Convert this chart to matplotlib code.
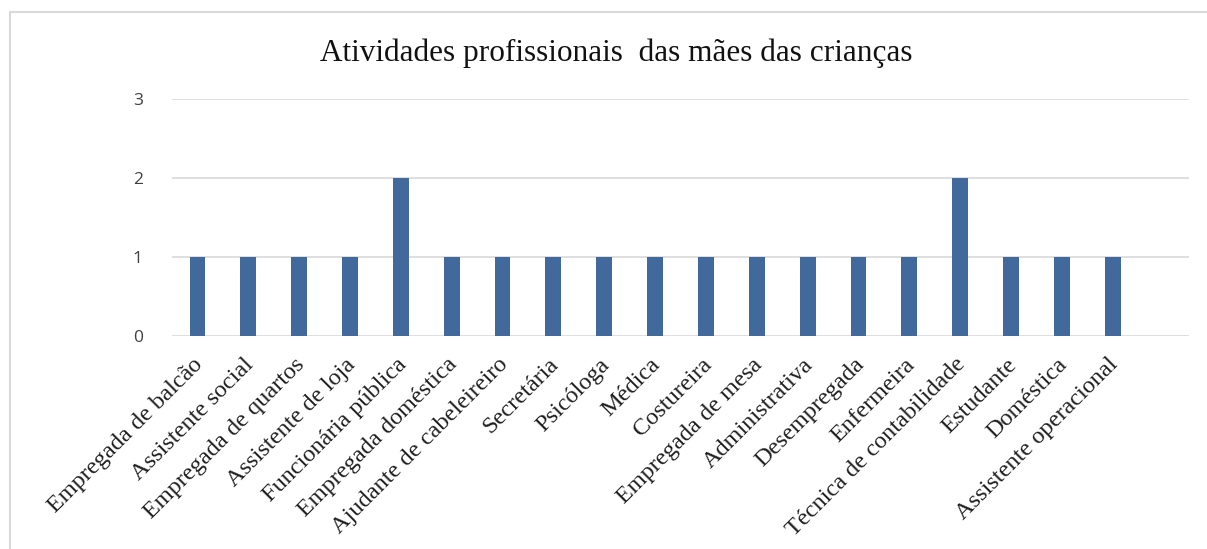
import matplotlib
matplotlib.use("Agg")
import matplotlib.pyplot as plt
from matplotlib.patches import Rectangle
from matplotlib.transforms import ScaledTranslation

categories = ["Empregada de balcão", "Assistente social", "Empregada de quartos",
              "Assistente de loja", "Funcionária pública", "Empregada doméstica",
              "Ajudante de cabeleireiro", "Secretária", "Psicóloga", "Médica",
              "Costureira", "Empregada de mesa", "Administrativa", "Desempregada",
              "Enfermeira", "Técnica de contabilidade", "Estudante", "Doméstica",
              "Assistente operacional"]
counts = [1, 1, 1, 1, 2, 1, 1, 1, 1, 1, 1, 1, 1, 1, 1, 2, 1, 1, 1]
yticks = [0, 1, 2, 3]

BLUE = "#41699b"
GRID = "#d9d9d9"
SERIF = ["Liberation Serif", "DejaVu Serif"]

fig = plt.figure(figsize=(12.07, 5.49), dpi=100)
# light chart-area frame (runs off the right/bottom edge as in the source)
fig.patches.append(Rectangle((10 / 1207, -0.1), 1.2, 1 - 12 / 549 + 0.1,
                             transform=fig.transFigure, fill=False,
                             edgecolor="#d9d9d9", lw=1.5))

ax = fig.add_axes([172 / 1207, 1 - 336 / 549, (1189 - 172) / 1207, (336 - 99) / 549])
x = list(range(len(categories)))
ax.bar(x, counts, width=0.31, color=BLUE, zorder=3)

ax.set_ylim(0, 3)
ax.set_xlim(-0.5, len(categories) + 0.5)
ax.set_yticks(yticks)
ax.set_yticklabels([str(v) for v in yticks], fontsize=12.5, family=["Open Sans", "DejaVu Sans"],
                   color="#404040")
ax.tick_params(axis="y", length=0, pad=21)
ax.tick_params(axis="x", length=0, pad=13)
ax.grid(True, axis="y", color=GRID, lw=1.2, zorder=0)
for s in ax.spines.values():
    s.set_visible(False)

ax.set_xticks(x)
ax.set_xticklabels(categories, rotation=45, ha="right", rotation_mode="anchor",
                   fontsize=17.5, family=SERIF, color="#1f1f1f")
# nudge the slanted labels a little left, as in the source
shift = ScaledTranslation(-5 / 100, 0, fig.dpi_scale_trans)
for lbl in ax.get_xticklabels():
    lbl.set_transform(lbl.get_transform() + shift)

fig.text(616 / 1207, 1 - 53 / 549, "Atividades profissionais  das mães das crianças",
         ha="center", va="center", fontsize=22.5, family=SERIF, color="#111111")

fig.savefig("out.png", dpi=100)
